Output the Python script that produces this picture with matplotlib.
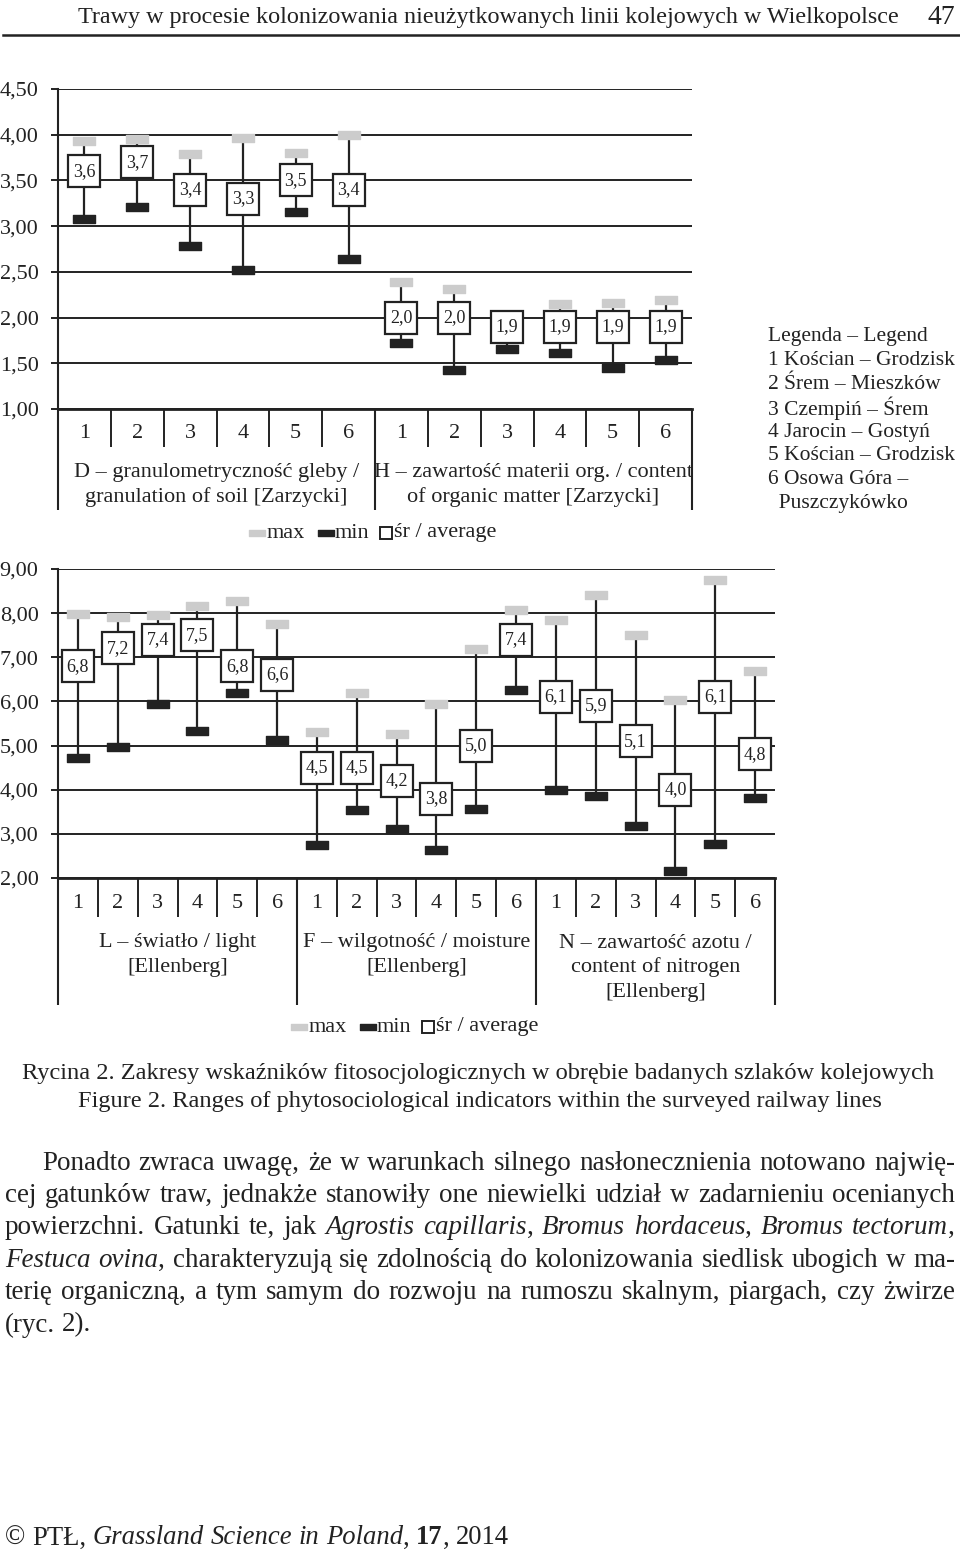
import numpy as np
import matplotlib.pyplot as plt
from matplotlib.path import Path
from matplotlib.markers import MarkerStyle

plt.rcParams['font.family'] = ['Liberation Serif', 'DejaVu Serif']

sites = ['1', '2', '3', '4', '5', '6']

# D - granulometryczność gleby [Zarzycki]
d_avg = [3.6, 3.7, 3.4, 3.3, 3.5, 3.4]
d_max = [3.93, 3.95, 3.79, 3.96, 3.80, 4.00]
d_min = [3.08, 3.21, 2.78, 2.52, 3.15, 2.64]
# H - zawartość materii organicznej [Zarzycki]
h_avg = [2.0, 2.0, 1.9, 1.9, 1.9, 1.9]
h_max = [2.39, 2.31, 2.00, 2.15, 2.16, 2.19]
h_min = [1.72, 1.43, 1.66, 1.61, 1.45, 1.54]
# L - światło [Ellenberg]
l_avg = [6.8, 7.2, 7.4, 7.5, 6.8, 6.6]
l_max = [7.97, 7.92, 7.96, 8.16, 8.27, 7.75]
l_min = [4.72, 4.96, 5.94, 5.33, 6.20, 5.12]
# F - wilgotność [Ellenberg]
f_avg = [4.5, 4.5, 4.2, 3.8, 5.0, 7.4]
f_max = [5.31, 6.20, 5.27, 5.94, 7.19, 8.06]
f_min = [2.74, 3.55, 3.11, 2.63, 3.56, 6.26]
# N - zawartość azotu [Ellenberg]
n_avg = [6.1, 5.9, 5.1, 4.0, 6.1, 4.8]
n_max = [7.84, 8.42, 7.50, 6.04, 8.76, 6.69]
n_min = [3.99, 3.85, 3.17, 2.16, 2.76, 3.81]

top_titles = ['D – granulometryczność gleby /\ngranulation of soil [Zarzycki]',
              'H – zawartość materii org. / content\nof organic matter [Zarzycki]']
bottom_titles = ['L – światło / light\n[Ellenberg]',
                 'F – wilgotność / moisture\n[Ellenberg]',
                 'N – zawartość azotu /\ncontent of nitrogen\n[Ellenberg]']
legend_lines = ['Legenda – Legend', '1 Kościan – Grodzisk', '2 Śrem – Mieszków',
                '3 Czempiń – Śrem', '4 Jarocin – Gostyń', '5 Kościan – Grodzisk',
                '6 Osowa Góra –', '  Puszczykówko']

header = 'Trawy w procesie kolonizowania nieużytkowanych linii kolejowych w Wielkopolsce'
page_no = '47'
caption_pl = 'Rycina 2. Zakresy wskaźników fitosocjologicznych w obrębie badanych szlaków kolejowych'
caption_en = 'Figure 2. Ranges of phytosociological indicators within the surveyed railway lines'
body = ['Ponadto zwraca uwagę, że w warunkach silnego nasłonecznienia notowano najwię-',
        'cej gatunków traw, jednakże stanowiły one niewielki udział w zadarnieniu ocenianych',
        'powierzchni. Gatunki te, jak _Agrostis capillaris_, _Bromus hordaceus_, _Bromus tectorum_,',
        '_Festuca ovina_, charakteryzują się zdolnością do kolonizowania siedlisk ubogich w ma-',
        'terię organiczną, a tym samym do rozwoju na rumoszu skalnym, piargach, czy żwirze',
        '(ryc. 2).']
footer = '© PTŁ, _Grassland Science in Poland_, *17*, 2014'

INK = '#222222'
GREY = '#cccccc'
W, H = 960, 1554

fig = plt.figure(figsize=(W / 100, H / 100), dpi=100)
renderer = fig.canvas.get_renderer()


def px_axes(x0, y0, x1, y1):
    return fig.add_axes([x0 / W, 1 - y1 / H, (x1 - x0) / W, (y1 - y0) / H])


page = px_axes(0, 0, W, H)
page.set_xlim(0, W)
page.set_ylim(H, 0)
page.axis('off')

# zaokrąglony prostokąt dla min / max
bar_path = Path([(-1.45, -0.5), (1.45, -0.5), (1.45, 0.5), (-1.45, 0.5), (-1.45, -0.5)],
                [Path.MOVETO, Path.LINETO, Path.LINETO, Path.LINETO, Path.CLOSEPOLY])
bar = MarkerStyle(bar_path, joinstyle='round')


def fmt(v, nd=1):
    return f'{v:.{nd}f}'.replace('.', ',')


def panel(x0, y0, x1, y1, y_tab, data, titles, ylim, step, sep_h, num_y, lab_y):
    ax = px_axes(x0, y0, x1, y1)
    n = sum(len(g[0]) for g in data)
    ax.set_xlim(0.5, n + 0.5)
    ax.set_ylim(*ylim)
    ticks = np.arange(ylim[0], ylim[1] + step / 2, step)
    ax.set_yticks(ticks)
    ax.set_yticklabels([fmt(t, 2) for t in ticks])
    ax.set_xticks([])
    ax.grid(axis='y', color=INK, lw=1.4)
    ax.set_axisbelow(True)
    ax.spines[['top', 'right']].set_visible(False)
    ax.spines['left'].set_color(INK)
    ax.spines['left'].set_linewidth(1.5)
    ax.spines['bottom'].set_color(INK)
    ax.spines['bottom'].set_linewidth(2)
    ax.tick_params(axis='y', length=5, width=1.4, color=INK, pad=9,
                   labelsize=16, labelcolor=INK)
    ax.patch.set_alpha(0)

    tab = px_axes(x0, y1, x1, y_tab)
    tab.set_xlim(0.5, n + 0.5)
    tab.set_ylim(y_tab - y1, 0)
    tab.axis('off')

    start = 1
    bounds = [0.5]
    for (avg, mx, mn), title in zip(data, titles):
        xs = np.arange(start, start + len(avg))
        ax.vlines(xs, mn, mx, color=INK, lw=1.6, zorder=3)
        ax.plot(xs, mx, ls='none', marker=bar, ms=16.5, mfc=GREY, mec=GREY, mew=1, zorder=4)
        ax.plot(xs, mn, ls='none', marker=bar, ms=16.5, mfc=INK, mec=INK, mew=1, zorder=4)
        ax.plot(xs, avg, ls='none', marker='s', ms=23.5, mfc='white', mec=INK, mew=1.6, zorder=5)
        for xi, a in zip(xs, avg):
            ax.text(xi, a, fmt(a), ha='center', va='center', fontsize=13, color=INK, zorder=6)

        tab.vlines(xs[:-1] + 0.5, 0, sep_h, color=INK, lw=1.4, clip_on=False)
        for xi, s in zip(xs, sites):
            tab.text(xi, num_y, s, ha='center', va='center', fontsize=16, color=INK)
        for i, line in enumerate(title.split('\n')):
            tab.text(xs.mean(), lab_y + i * 24.5, line, ha='center', va='center',
                     fontsize=16, color=INK)
        bounds.append(xs[-1] + 0.5)
        start += len(avg)
    tab.vlines(bounds, 0, y_tab - y1, color=INK, lw=1.5, clip_on=False)
    return ax


panel(58, 89, 692, 409, 510,
      [(d_avg, d_max, d_min), (h_avg, h_max, h_min)], top_titles,
      (1.0, 4.5), 0.5, 38, 24, 64)
panel(58, 569, 775, 878, 1005,
      [(l_avg, l_max, l_min), (f_avg, f_max, f_min), (n_avg, n_max, n_min)], bottom_titles,
      (2.0, 9.0), 1.0, 39, 25, 65)


def chart_legend(x, y):
    page.plot(x, y, marker=bar, ms=11, mfc=GREY, mec=GREY, ls='none')
    page.text(x + 10, y, 'max', va='center', fontsize=16, color=INK)
    page.plot(x + 69, y, marker=bar, ms=11, mfc=INK, mec=INK, ls='none')
    page.text(x + 78, y, 'min', va='center', fontsize=16, color=INK)
    page.plot(x + 129, y, marker='s', ms=8.5, mfc='white', mec=INK, mew=1.4, ls='none')
    page.text(x + 137, y, 'śr / average', va='center', fontsize=16, color=INK)


chart_legend(257, 533)
chart_legend(299, 1027)


def width_of(t):
    return t.get_window_extent(renderer).width


def fit_text(x0, x1, y, s, base=16, **kw):
    t = page.text(x0, y, s, fontsize=base, va='center', ha='left', color=INK, **kw)
    t.set_fontsize(base * (x1 - x0) / width_of(t))
    return t


def rich_line(x, y, line, size, x_end=None):
    words = []
    ital = bold = False
    for raw in line.split(' '):
        pieces, buf = [], ''
        for ch in raw:
            if ch in '_*':
                if buf:
                    pieces.append((buf, ital, bold))
                    buf = ''
                if ch == '_':
                    ital = not ital
                else:
                    bold = not bold
            else:
                buf += ch
        if buf:
            pieces.append((buf, ital, bold))
        words.append(pieces)
    arts, widths = [], []
    for pieces in words:
        wa, w = [], 0
        for s, it, bd in pieces:
            t = page.text(0, y, s, fontsize=size, style='italic' if it else 'normal',
                          weight='bold' if bd else 'normal', va='center', ha='left', color=INK)
            tw = width_of(t)
            wa.append((t, tw))
            w += tw
        arts.append(wa)
        widths.append(w)
    probe_a = page.text(0, y, 'a a', fontsize=size)
    probe_b = page.text(0, y, 'aa', fontsize=size)
    space = width_of(probe_a) - width_of(probe_b)
    probe_a.remove()
    probe_b.remove()
    if x_end is not None and len(words) > 1:
        gap = (x_end - x - sum(widths)) / (len(words) - 1)
    else:
        gap = space
    cx = x
    for wa, w in zip(arts, widths):
        px = cx
        for t, tw in wa:
            t.set_x(px)
            px += tw
        cx += w + gap
    return [t for wa in arts for t, _ in wa], sum(widths) + space * (len(words) - 1)


# nagłówek strony
fit_text(78, 898, 18, header)
page.text(955, 18, page_no, fontsize=20, va='center', ha='right', color=INK)
page.plot([3, 960], [35, 35], color=INK, lw=1.8)

# legenda stanowisk
leg_size = 15.5
probe = page.text(0, 0, legend_lines[1], fontsize=leg_size)
leg_size = leg_size * 187 / width_of(probe)
probe.remove()
for i, s in enumerate(legend_lines):
    page.text(768, 337 + i * 23.8, s, fontsize=leg_size, va='center', ha='left', color=INK)

# podpis ryciny
fit_text(22, 935, 1073, caption_pl)
fit_text(78, 882, 1101, caption_en)

# tekst główny, wyjustowany
body_size = 17.5
natural = []
for i, line in enumerate(body[:-1]):
    arts, w = rich_line(0, -100, line, body_size)
    natural.append(w / ((955 - 42) if i == 0 else (955 - 5)))
    for a in arts:
        a.remove()
body_size = body_size * 0.99 / max(natural)
for i, line in enumerate(body):
    x0 = 42 if i == 0 else 5
    x_end = 955 if i < len(body) - 1 else None
    rich_line(x0, 1163 + i * 32.4, line, body_size, x_end)

# stopka
arts, w = rich_line(5, -100, footer, 17)
for a in arts:
    a.remove()
rich_line(5, 1538, footer, 17 * 505 / w)

fig.savefig('out.png', dpi=100)
